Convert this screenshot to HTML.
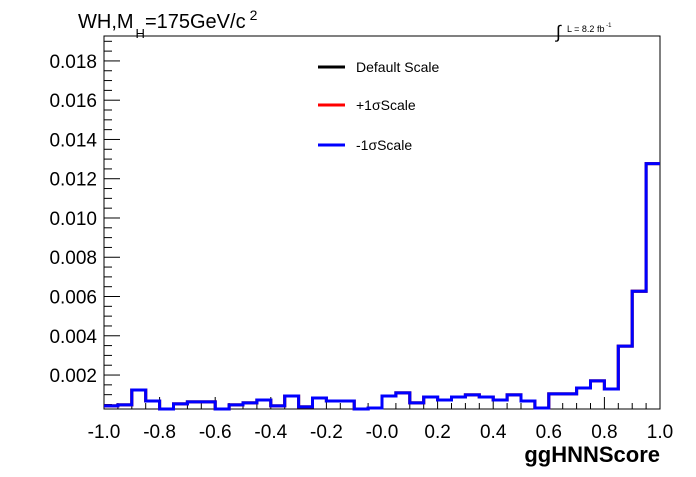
<!DOCTYPE html>
<html><head><meta charset="utf-8"><style>
body{margin:0;background:#fff;}
svg text{font-family:"Liberation Sans",Arial,sans-serif;}
</style></head><body>
<svg width="696" height="472" viewBox="0 0 696 472" xmlns="http://www.w3.org/2000/svg">
<rect x="0" y="0" width="696" height="472" fill="#fff"/>
<g id="axes"></g>
<g id="series"></g>
<text x="78" y="28" font-size="20">WH,M<tspan font-size="13" dx="2" dy="10">H</tspan><tspan dy="-10">=175GeV/c</tspan><tspan font-size="14" dx="4" dy="-8">2</tspan></text>
<text x="556" y="38" font-size="18">∫</text>
<text x="567" y="32" font-size="9">L = 8.2 fb<tspan font-size="6" dy="-5"> -1</tspan></text>
<g>
<line x1="318" y1="67" x2="345" y2="67" stroke="#000" stroke-width="3"/>
<text x="356" y="72" font-size="14">Default Scale</text>
<line x1="318" y1="105" x2="345" y2="105" stroke="#f00" stroke-width="3"/>
<text x="356" y="110" font-size="14">+1σScale</text>
<line x1="318" y1="145" x2="345" y2="145" stroke="#00f" stroke-width="3"/>
<text x="356" y="150" font-size="14">-1σScale</text>
</g>
<text x="660" y="462" font-size="22" font-weight="bold" text-anchor="end">ggHNNScore</text>
</svg>
<script>
const binValues = [0.00043,0.00048,0.00124,0.00068,0.00022,0.00053,0.00063,0.00063,0.00027,0.00048,
0.00058,0.00073,0.00043,0.00093,0.00038,0.00083,0.00068,0.00068,0.00022,0.00032,
0.00093,0.00109,0.00058,0.00088,0.00073,0.00088,0.00099,0.00088,0.00073,0.00099,
0.00068,0.00032,0.00104,0.00104,0.00134,0.0017,0.00129,0.00347,0.00627,0.01277];
const xRange = [-1, 1];
const yRange = [0.00027, 0.01927];
const xTickLabels = ["-1.0","-0.8","-0.6","-0.4","-0.2","-0.0","0.2","0.4","0.6","0.8","1.0"];
const yTickLabels = ["0.002","0.004","0.006","0.008","0.010","0.012","0.014","0.016","0.018"];

const L=104,R=660,T=36,B=409;
const NS="http://www.w3.org/2000/svg";
function xs(v){return L+(v-xRange[0])/(xRange[1]-xRange[0])*(R-L);}
function ys(v){v=Math.max(yRange[0],Math.min(yRange[1],v));return B-(v-yRange[0])/(yRange[1]-yRange[0])*(B-T);}
function mk(tag,attrs,parent){const e=document.createElementNS(NS,tag);for(const k in attrs)e.setAttribute(k,attrs[k]);parent.appendChild(e);return e;}
const ax=document.getElementById('axes');
const fr=mk('rect',{x:L,y:T,width:R-L,height:B-T,fill:'none',stroke:'#000','stroke-width':1},ax);


for(let i=0;i<=40;i++){
  const v=xRange[0]+i*0.05, x=xs(v), major=i%4===0;
  const t=mk('line',{x1:x,x2:x,y1:B,y2:B-(major?12:6),stroke:'#000'},ax);
  
  
}
xTickLabels.forEach((s,i)=>{
  const t=mk('text',{x:xs(xRange[0]+i*0.2),y:438,'font-size':19,'text-anchor':'middle'},ax);
  t.textContent=s;
  
  
});
for(let v=0.0005;v<yRange[1];v+=0.0005){
  if(v<yRange[0])continue;
  const y=ys(v), major=Math.abs(v/0.002-Math.round(v/0.002))<1e-6;
  const t=mk('line',{x1:L,x2:L+(major?16:8),y1:y,y2:y,stroke:'#000'},ax);
  
  
}
yTickLabels.forEach((s,i)=>{
  const t=mk('text',{x:97,y:ys((i+1)*0.002)+7,'font-size':19,'text-anchor':'end'},ax);
  t.textContent=s;
  
  
});
const sg=document.getElementById('series');
const w=(xRange[1]-xRange[0])/binValues.length;
function path(vals){
  let d='M'+xs(xRange[0])+','+ys(vals[0]);
  vals.forEach((v,i)=>{
    if(i>0)d+=' L'+xs(xRange[0]+i*w)+','+ys(v);
    d+=' L'+xs(xRange[0]+(i+1)*w)+','+ys(v);
  });
  return d;
}
[['#000','default-scale-hist'],['#f00','plus-sigma-hist'],['#00f','minus-sigma-hist']].forEach(([c,n])=>{
  const p=mk('path',{d:path(binValues),fill:'none',stroke:c,'stroke-width':3},sg);
  
  
});
</script>
</body></html>
